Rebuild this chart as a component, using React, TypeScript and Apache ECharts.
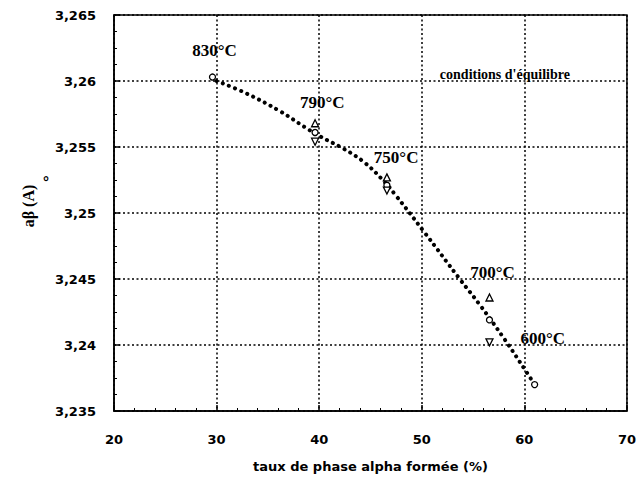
import React, { useEffect, useRef } from "react";
import * as echarts from "echarts";

// equilibrium curve (dotted)
const curveX = [30.0, 32.8, 36.2, 38.6, 40.1, 42.3, 44.3, 46.2, 47.4, 50.2, 53.7, 55.7, 58.1, 60.25, 61.0];
const curveY = [3.26, 3.2591, 3.2577, 3.2565, 3.2558, 3.2549, 3.2539, 3.2525, 3.2514, 3.2486, 3.245, 3.243, 3.2404, 3.2379, 3.237];

// measured points
const triUpX = [39.6, 46.6, 56.6];
const triUpY = [3.2568, 3.2527, 3.2436];
const circleX = [29.6, 39.6, 46.6, 56.6, 61.0];
const circleY = [3.2603, 3.2561, 3.2521, 3.2419, 3.237];
const triDownX = [39.6, 46.6, 56.6];
const triDownY = [3.2554, 3.2517, 3.2402];

// annotations
const tempLabels = ["830°C", "790°C", "750°C", "700°C", "600°C"];
const tempX = [29.8, 40.3, 47.5, 56.9, 61.8];
const tempY = [3.2623, 3.2584, 3.2542, 3.2455, 3.2405];
const noteText = "conditions d'équilibre";
const noteX = 58.1;
const noteY = 3.2605;

const xTicks = [20, 30, 40, 50, 60, 70];
const yTickLabels = ["3,235", "3,24", "3,245", "3,25", "3,255", "3,26", "3,265"];
const yTitle = "aβ (A)";

export default function App() {
  const ref = useRef<HTMLDivElement>(null);
  useEffect(() => {
    if (!ref.current) return;
    const chart = echarts.init(ref.current, null, { renderer: "svg" });
    const zip = (xs: number[], ys: number[]) => xs.map((x, i) => [x, ys[i]]);
    const yMin = 3.235;
    const yStep = 0.005;
    const markerStyle = { color: "#fff", borderColor: "#000", borderWidth: 1.3, opacity: 1 };
    chart.setOption({
      animation: false,
      backgroundColor: "#fff",
      grid: {
        left: 114,
        right: 12,
        top: 15,
        bottom: 70,
        show: true,
        borderColor: "#000",
        borderWidth: 1.5,
      },
      xAxis: {
        type: "value",
        min: xTicks[0],
        max: xTicks[xTicks.length - 1],
        interval: 10,
        name: "taux de phase alpha formée (%)",
        nameLocation: "middle",
        nameGap: 49,
        nameTextStyle: { fontFamily: "DejaVu Sans", fontWeight: "bold", fontSize: 13, color: "#000" },
        axisLine: { lineStyle: { color: "#000", width: 1.5 } },
        axisTick: { inside: true, length: 6, lineStyle: { color: "#000", width: 1.5 } },
        minorTick: { show: true, splitNumber: 5, length: 3, lineStyle: { color: "#000" } },
        axisLabel: { margin: 22, fontFamily: "DejaVu Sans", fontWeight: "bold", fontSize: 13, color: "#000" },
        splitLine: { show: true, lineStyle: { color: "#000", type: [2, 2.5], width: 1.5 } },
      },
      yAxis: {
        type: "value",
        min: yMin,
        max: 3.265,
        interval: yStep,
        axisLine: { lineStyle: { color: "#000", width: 1.5 } },
        axisTick: { inside: true, length: 6, lineStyle: { color: "#000", width: 1.5 } },
        minorTick: { show: true, splitNumber: 4, length: 3, lineStyle: { color: "#000" } },
        axisLabel: {
          margin: 18,
          fontFamily: "DejaVu Sans",
          fontWeight: "bold",
          fontSize: 13,
          color: "#000",
          formatter: (v: number) => yTickLabels[Math.round((v - yMin) / yStep)] ?? "",
        },
        splitLine: { show: true, lineStyle: { color: "#000", type: [2, 2.5], width: 1.5 } },
      },
      graphic: [
        {
          type: "text",
          x: 28,
          y: 206,
          rotation: Math.PI / 2,
          style: {
            text: yTitle,
            fontFamily: "Liberation Serif",
            fontWeight: "bold",
            fontSize: 16,
            fill: "#000",
            align: "center",
            verticalAlign: "middle",
          },
        },
        {
          type: "text",
          x: 43,
          y: 174,
          style: { text: "°", fontFamily: "Liberation Sans", fontWeight: "bold", fontSize: 15, fill: "#000" },
        },
      ],
      series: [
        {
          type: "line",
          data: zip(curveX, curveY),
          smooth: 0.4,
          symbol: "none",
          lineStyle: { color: "#000", width: 4, type: [0.1, 6.5], cap: "round" },
          z: 2,
        },
        {
          type: "scatter",
          data: zip(triUpX, triUpY),
          symbol: "triangle",
          symbolSize: 7,
          itemStyle: markerStyle,
          z: 3,
        },
        {
          type: "scatter",
          data: zip(circleX, circleY),
          symbol: "circle",
          symbolSize: 6,
          itemStyle: markerStyle,
          z: 3,
        },
        {
          type: "scatter",
          data: zip(triDownX, triDownY),
          symbol: "triangle",
          symbolRotate: 180,
          symbolSize: 7,
          itemStyle: markerStyle,
          z: 3,
        },
        {
          type: "scatter",
          symbolSize: 0,
          itemStyle: { opacity: 1 },
          data: tempLabels.map((t, i) => ({ name: t, value: [tempX[i], tempY[i]] })),
          label: {
            show: true,
            position: "inside",
            formatter: (p: any) => p.name,
            fontFamily: "Liberation Serif",
            fontWeight: "bold",
            fontSize: 17,
            color: "#000",
            opacity: 1,
          },
          z: 4,
        },
        {
          type: "scatter",
          symbolSize: 0,
          itemStyle: { opacity: 1 },
          data: [{ name: noteText, value: [noteX, noteY] }],
          label: {
            show: true,
            position: "inside",
            formatter: (p: any) => p.name,
            fontFamily: "Liberation Serif",
            fontWeight: "bold",
            fontSize: 14,
            color: "#000",
            opacity: 1,
          },
          z: 4,
        },
      ],
    });
    return () => chart.dispose();
  }, []);
  return (
    <div
      ref={ref}
      style={{ position: "fixed", left: 0, top: 0, width: 639, height: 481 }}
    />
  );
}
